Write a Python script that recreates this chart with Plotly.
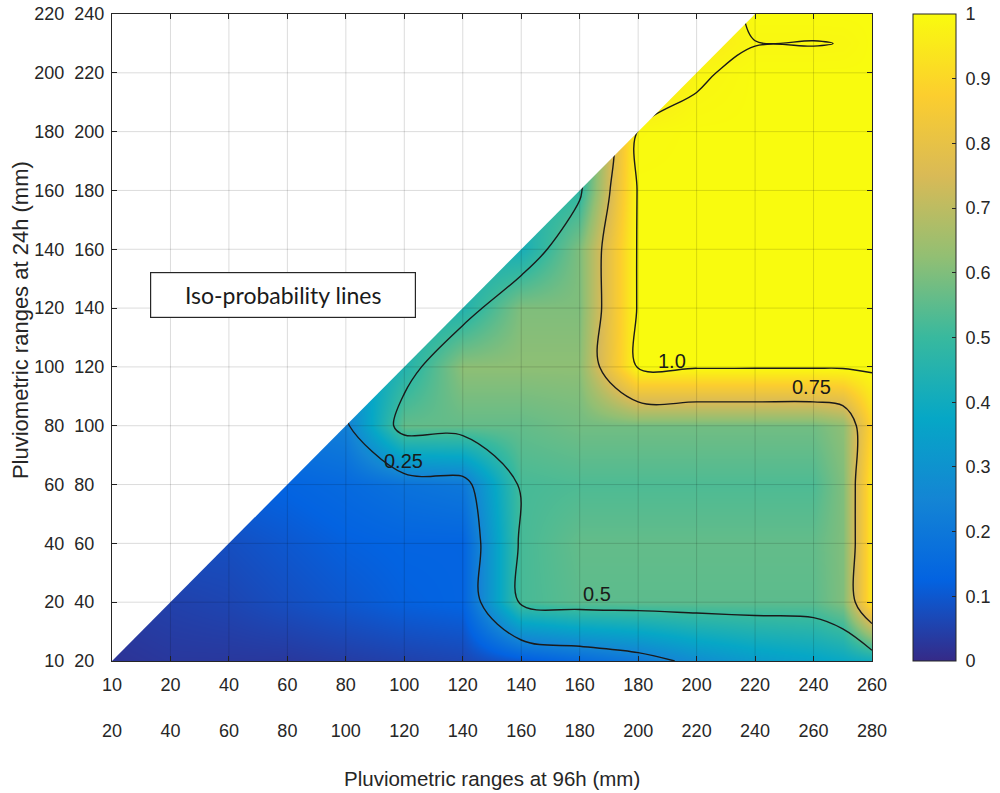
import plotly.graph_objects as go

# ---------------- data ----------------
x_labels_top = ["10", "20", "40", "60", "80", "100", "120", "140", "160", "180", "200", "220", "240", "260"]
x_labels_bottom = ["20", "40", "60", "80", "100", "120", "140", "160", "180", "200", "220", "240", "260", "280"]
y_labels_outer = ["10", "20", "40", "60", "80", "100", "120", "140", "160", "180", "200", "220"]
y_labels_inner = ["20", "40", "60", "80", "100", "120", "140", "160", "180", "200", "220", "240"]

# grid node positions (in category-index units) at which probabilities were read
grid_x = [0, 1, 2, 3, 4, 5, 6, 7, 8, 9, 10, 11, 12, 12.5, 13]
grid_y = [0, 1, 2, 3, 4, 5, 6, 7, 8, 9, 10, 10.5, 11]

# probability read at each node (one list per row of grid_y)
p_row_00 = [0.02, 0.03, 0.03, 0.03, 0.04, 0.05, 0.06, 0.10, 0.15, 0.20, 0.28, 0.33, 0.36, 0.38, 0.40]
p_row_01 = [0.04, 0.05, 0.06, 0.08, 0.10, 0.12, 0.13, 0.52, 0.55, 0.55, 0.55, 0.55, 0.55, 0.60, 0.95]
p_row_02 = [0.08, 0.08, 0.08, 0.10, 0.12, 0.13, 0.13, 0.52, 0.56, 0.56, 0.56, 0.56, 0.56, 0.60, 0.95]
p_row_03 = [0.12, 0.12, 0.12, 0.13, 0.15, 0.18, 0.20, 0.52, 0.53, 0.53, 0.53, 0.53, 0.53, 0.60, 0.95]
p_row_04 = [0.20, 0.20, 0.20, 0.20, 0.23, 0.56, 0.56, 0.56, 0.58, 0.58, 0.58, 0.58, 0.58, 0.62, 0.90]
p_row_05 = [0.30, 0.30, 0.30, 0.30, 0.30, 0.45, 0.62, 0.62, 0.62, 1.00, 1.00, 1.00, 1.00, 1.00, 1.00]
p_row_06 = [0.42, 0.42, 0.42, 0.42, 0.42, 0.42, 0.45, 0.60, 0.60, 1.00, 1.00, 1.00, 1.00, 1.00, 1.00]
p_row_07 = [0.42, 0.42, 0.42, 0.42, 0.42, 0.42, 0.42, 0.42, 0.60, 1.00, 1.00, 1.00, 1.00, 1.00, 1.00]
p_row_08 = [0.45, 0.45, 0.45, 0.45, 0.45, 0.45, 0.45, 0.45, 0.48, 1.00, 1.00, 1.00, 1.00, 1.00, 1.00]
p_row_09 = [0.45, 0.45, 0.45, 0.45, 0.45, 0.45, 0.45, 0.45, 0.45, 0.995, 1.00, 1.00, 1.00, 1.00, 1.00]
p_row_10 = [0.90, 0.90, 0.90, 0.90, 0.90, 0.90, 0.90, 0.90, 0.90, 0.90, 0.985, 1.00, 1.00, 1.00, 1.00]
p_row_10h = [0.95, 0.95, 0.95, 0.95, 0.95, 0.95, 0.95, 0.95, 0.95, 0.95, 0.95, 0.989, 0.989, 0.9905, 1.00]
p_row_11 = [0.95, 0.95, 0.95, 0.95, 0.95, 0.95, 0.95, 0.95, 0.95, 0.95, 0.95, 1.00, 1.00, 1.00, 1.00]

prob = [p_row_00, p_row_01, p_row_02, p_row_03, p_row_04, p_row_05, p_row_06,
        p_row_07, p_row_08, p_row_09, p_row_10, p_row_10h, p_row_11]

iso_levels = [0.25, 0.5, 0.75]
iso_top_level = 0.99
iso_labels = ["0.25", "0.5", "0.75", "1.0"]
colorbar_ticks = [0, 0.1, 0.2, 0.3, 0.4, 0.5, 0.6, 0.7, 0.8, 0.9, 1]
colorbar_ticktext = ["0", "0.1", "0.2", "0.3", "0.4", "0.5", "0.6", "0.7", "0.8", "0.9", "1"]

# ---------------- styling ----------------
parula = [
    [0.000, "#352a87"], [0.125, "#0363e1"], [0.250, "#1485d4"],
    [0.375, "#06a7c6"], [0.500, "#38b99e"], [0.625, "#92bf73"],
    [0.750, "#d9ba56"], [0.875, "#fcce2e"], [1.000, "#f9fb0e"],
]
AX = "#262626"
FONT = "Liberation Sans, Arial, Helvetica, sans-serif"

nx = len(x_labels_top)
ny = len(y_labels_inner)
x_ticks = list(range(nx))
y_ticks = list(range(ny))

x_ticktext = [f"{a}<br><br>{b}" for a, b in zip(x_labels_top, x_labels_bottom)]
y_ticktext = [f"{o}\u00a0\u00a0{i}" + ("\u2007" * (3 - len(i))) for o, i in zip(y_labels_outer, y_labels_inner)]

fig = go.Figure()

# smooth colour field + colorbar
fig.add_trace(go.Contour(
    x=grid_x, y=grid_y, z=prob,
    colorscale=parula, zmin=0, zmax=1,
    contours=dict(coloring="heatmap", showlines=False, start=0.25, end=0.75, size=0.25),
    line=dict(width=0),
    hoverinfo="skip",
    colorbar=dict(
        x=1.054, xanchor="left", y=0.5, yanchor="middle", len=1, lenmode="fraction",
        thickness=43, thicknessmode="pixels", outlinewidth=1, outlinecolor=AX,
        tickvals=colorbar_ticks, ticktext=["\u00a0" + t for t in colorbar_ticktext],
        ticks="inside", ticklen=4, tickcolor=AX, ticklabeloverflow="allow",
        tickfont=dict(family=FONT, size=18, color=AX),
        xpad=0, ypad=0,
    ),
))

# iso-probability lines 0.25 / 0.5 / 0.75
fig.add_trace(go.Contour(
    x=grid_x, y=grid_y, z=prob, showscale=False, hoverinfo="skip",
    contours=dict(coloring="none", start=iso_levels[0], end=iso_levels[-1],
                  size=iso_levels[1] - iso_levels[0], showlabels=False),
    line=dict(color="#1a1a1a", width=1.4, smoothing=1.0),
))
# iso-probability line 1.0
fig.add_trace(go.Contour(
    x=grid_x, y=grid_y, z=prob, showscale=False, hoverinfo="skip",
    contours=dict(coloring="none", start=iso_top_level, end=iso_top_level, size=0.5, showlabels=False),
    line=dict(color="#1a1a1a", width=1.4, smoothing=1.0),
))

# white mask over the undefined upper-left triangle (y index > x index)
top = y_ticks[-1]
fig.add_trace(go.Scatter(
    x=[x_ticks[0], x_ticks[0], top, x_ticks[0]], y=[y_ticks[0], top, top, y_ticks[0]],
    mode="lines", fill="toself", fillcolor="white", line=dict(width=0, color="white"),
    hoverinfo="skip", showlegend=False,
))

# grid lines drawn above the colour field (MATLAB style)
shapes = []
grid_col = "rgba(0,0,0,0.14)"
for k in x_ticks[1:-1]:
    shapes.append(dict(type="line", xref="x", yref="paper", x0=k, x1=k, y0=0, y1=1,
                       line=dict(color=grid_col, width=1), layer="above"))
for k in y_ticks[1:-1]:
    shapes.append(dict(type="line", xref="paper", yref="y", x0=0, x1=1, y0=k, y1=k,
                       line=dict(color=grid_col, width=1), layer="above"))

annotations = []
label_pos = [(4.98, 3.40), (8.30, 1.14), (11.97, 4.66), (9.58, 5.10)]
for txt, (lx, ly) in zip(iso_labels, label_pos):
    annotations.append(dict(x=lx, y=ly, xref="x", yref="y", text=txt, showarrow=False,
                            font=dict(family=FONT, size=20, color="#1a1a1a")))

annotations.append(dict(
    x=2.925, y=6.22, xref="x", yref="y", text="Iso-probability lines", showarrow=False,
    font=dict(family="Lato, Carlito, Open Sans, sans-serif", size=23, color="#1a1a1a"),
    bgcolor="white", bordercolor=AX, borderwidth=1.2, borderpad=1, width=262, height=42,
))
annotations.append(dict(
    x=0.5, y=-0.181, xref="paper", yref="paper", text="Pluviometric ranges at 96h (mm)",
    showarrow=False, yanchor="middle", font=dict(family=FONT, size=20.5, color=AX),
))
annotations.append(dict(
    x=-0.121, y=0.527, xref="paper", yref="paper", text="Pluviometric ranges at 24h (mm)",
    showarrow=False, textangle=-90, xanchor="center", yanchor="middle",
    font=dict(family=FONT, size=22, color=AX),
))

axis_common = dict(
    ticks="inside", ticklen=5, tickcolor=AX, tickwidth=1,
    showline=True, linecolor=AX, linewidth=1, mirror="ticks",
    showgrid=False, zeroline=False, automargin=False, ticklabeloverflow="allow",
    tickfont=dict(family=FONT, size=18, color=AX),
)

fig.update_layout(
    width=1000, height=793,
    margin=dict(l=112, r=128, t=14, b=132, autoexpand=False),
    paper_bgcolor="white", plot_bgcolor="white",
    xaxis=dict(range=[x_ticks[0], x_ticks[-1]], tickmode="array", tickvals=x_ticks,
               ticktext=x_ticktext, ticklabelstandoff=7, **axis_common),
    yaxis=dict(range=[y_ticks[0], y_ticks[-1]], tickmode="array", tickvals=y_ticks,
               ticktext=y_ticktext, ticklabelstandoff=3, **axis_common),
    shapes=shapes, annotations=annotations, showlegend=False,
)

# remove the browser's default 8px page margin so the figure fills the window
fig.write_html("out.html", config={"displayModeBar": False},
               post_script="document.body.style.margin='0px';")
